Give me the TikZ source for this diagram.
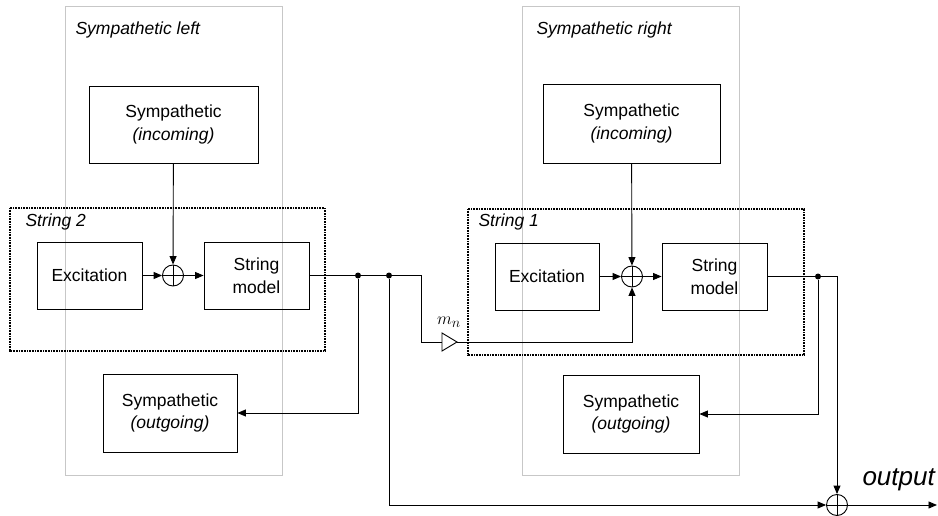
\documentclass[tikz,border=0pt]{standalone}
\usepackage{fontspec}
\setmainfont{Liberation Sans}
\usetikzlibrary{arrows.meta}
\begin{document}
\begin{tikzpicture}[x=1pt,y=-1pt,
  every node/.style={font=\fontsize{17.5}{22.5}\selectfont},
  blk/.style={draw,line width=0.9pt,align=center,inner sep=0pt},
  sum/.style={draw,circle,line width=0.9pt,minimum size=21pt,inner sep=0pt,
    path picture={\draw[line width=0.9pt] (path picture bounding box.north) -- (path picture bounding box.south)
      (path picture bounding box.west) -- (path picture bounding box.east);}},
  junc/.style={circle,fill,inner sep=0pt,minimum size=6pt},
  grp/.style={draw=black!22,line width=1pt},
  strgrp/.style={draw,line width=2pt,dash pattern=on 1pt off 0.6pt},
  wire/.style={line width=0.9pt},
  arr/.style={wire,-{Triangle[length=8.5pt,width=7pt]}},
  title/.style={font=\fontsize{17.5}{21}\selectfont\itshape,anchor=west}]
\useasboundingbox (0,0) rectangle (938,516);

% sympathetic groups
\draw[grp] (65,7) rectangle (282,475);
\draw[grp] (522,7) rectangle (739,475);
\node[title] (tl) at (72,30) {Sympathetic left};
\node[title] (tr) at (533,30) {Sympathetic right};

% string groups
\draw[strgrp] (10,208) rectangle (325,351);
\draw[strgrp] (468,209) rectangle (804,355);
\node[title] (s2) at (22,222) {String 2};
\node[title] (s1) at (475,222) {String 1};

% blocks
\node[blk,minimum width=169pt,minimum height=77pt] (incL) at (173.5,124.5) {Sympathetic\\\textit{(incoming)}};
\node[blk,minimum width=177pt,minimum height=79pt] (incR) at (631.5,123.5) {Sympathetic\\\textit{(incoming)}};
\node[blk,minimum width=105pt,minimum height=67pt] (excL) at (89.5,275.5) {Excitation};
\node[blk,minimum width=105pt,minimum height=67pt] (modL) at (256.5,275.5) {String\\model};
\node[blk,minimum width=104pt,minimum height=67pt] (excR) at (547,276.5) {Excitation};
\node[blk,minimum width=105pt,minimum height=67pt] (modR) at (714.5,276.5) {String\\model};
\node[blk,minimum width=134pt,minimum height=78pt] (outL) at (170,413) {Sympathetic\\\textit{(outgoing)}};
\node[blk,minimum width=136pt,minimum height=78pt] (outR) at (631,414) {Sympathetic\\\textit{(outgoing)}};

% adders and junctions
\node[sum] (sumL) at (173,275.5) {};
\node[sum] (sumR) at (632,276.5) {};
\node[sum] (sumO) at (837,505) {};
\node[junc] (jA) at (358,275.5) {};
\node[junc] (jB) at (389,275.5) {};
\node[junc] (jC) at (818,276.5) {};

% gain m_n
\coordinate (gin) at (442,342);
\coordinate (gout) at (457,342);
\draw[wire,fill=white] (442,333) -- (gout) -- (442,351) -- cycle;
\node[font=\fontsize{19}{19}\selectfont] (mn) at (449,322) {$m_n$};

% string 2 chain
\draw[arr] (incL) -- (sumL);
\draw[arr] (excL) -- (sumL);
\draw[arr] (sumL) -- (modL);
\draw[wire] (modL.east) -- (jA) -- (jB) -- (421,275.5) -- (421,342) -- (gin);
\draw[arr] (jA) |- (outL.east);
\draw[arr] (jB) |- (sumO.west);

% string 1 chain
\draw[arr] (gout) -| (sumR.south);
\draw[arr] (incR) -- (sumR);
\draw[arr] (excR) -- (sumR);
\draw[arr] (sumR) -- (modR);
\draw[wire] (modR.east) -- (jC);
\draw[arr] (jC) -| (sumO.north);
\draw[arr] (jC) |- (outR.east);

% output
\coordinate (oend) at (937,505);
\draw[arr] (sumO) -- (oend);
\node[font=\fontsize{26}{26}\selectfont\itshape,anchor=base west] (olab) at (859,485) {output};
\end{tikzpicture}
\end{document}
